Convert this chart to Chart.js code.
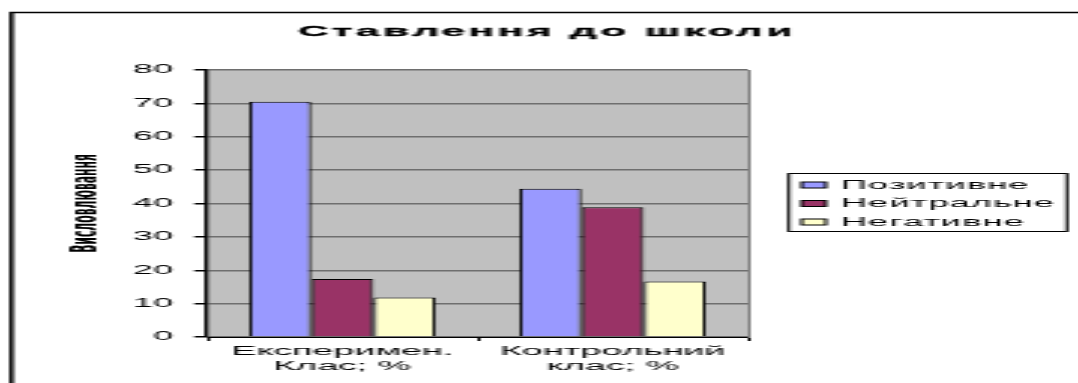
<!DOCTYPE html>
<html>
<head>
<meta charset="utf-8">
<script src="https://cdn.jsdelivr.net/npm/chart.js@4.4.1/dist/chart.umd.min.js"></script>
<style>
  html, body { margin: 0; padding: 0; background: #fff; }
  #c { display: block; width: 1078px !important; height: 383px !important; }
</style>
</head>
<body>
<canvas id="c" width="359" height="383" style="width:1078px;height:383px;display:block"></canvas>
<script>
const chartTitle = 'Ставлення до школи';
const yAxisTitle = 'Висловлювання';
const categories = [['Експеримен.', 'Клас; %'], ['Контрольний', 'клас; %']];
const seriesNames = ['Позитивне', 'Нейтральне', 'Негативне'];
const seriesColors = ['#9999FF', '#993366', '#FFFFCC'];
const positiveValues = [70.5, 44.4];
const neutralValues = [17.4, 38.9];
const negativeValues = [11.8, 16.6];
const yTicks = [0, 10, 20, 30, 40, 50, 60, 70, 80];

const seriesValues = [positiveValues, neutralValues, negativeValues];
const FONT = '"Liberation Sans", Arial, sans-serif';

const deco = {
  id: 'deco',
  beforeDraw(chart) {
    const { ctx, chartArea: a } = chart;
    ctx.save();
    ctx.fillStyle = '#ffffff';
    ctx.fillRect(0, 0, chart.width, chart.height);
    ctx.fillStyle = '#C0C0C0';
    ctx.fillRect(a.left, a.top, a.right - a.left, a.bottom - a.top);
    ctx.restore();
  },
  afterDraw(chart) {
    const { ctx, chartArea: a } = chart;
    ctx.save();
    // right gray edge of plot
    ctx.strokeStyle = '#808080';
    ctx.lineWidth = 1;
    ctx.beginPath();
    ctx.moveTo(a.right + 0.5, a.top);
    ctx.lineTo(a.right + 0.5, a.bottom + 1);
    ctx.stroke();
    // outer frame (left and top)
    ctx.strokeStyle = '#000';
    ctx.lineWidth = 1.5;
    ctx.beginPath();
    ctx.moveTo(chart.width + 2, 12.5);
    ctx.lineTo(3.8, 12.5);
    ctx.lineTo(3.8, chart.height + 2);
    ctx.stroke();

    // title
    ctx.fillStyle = '#000';
    ctx.strokeStyle = '#000';
    ctx.font = 'bold 14px ' + FONT;
    ctx.textBaseline = 'middle';
    ctx.textAlign = 'left';
    const ls = 1.2;
    ctx.letterSpacing = ls + 'px';
    const tw = ctx.measureText(chartTitle).width - ls;
    ctx.fillText(chartTitle, 181.5 - tw / 2, 32.5);
    ctx.lineWidth = 0.3;
    ctx.strokeText(chartTitle, 181.5 - tw / 2, 32.5);

    // legend
    const bx = 262.7, by = 173, bw = 92.6, bh = 58;
    ctx.letterSpacing = '0.4px';
    ctx.lineWidth = 1;
    ctx.strokeStyle = '#000';
    ctx.strokeRect(bx, by + 0.5, bw, bh);
    ctx.font = '12px ' + FONT;
    const rows = [185, 203.5, 222];
    chart.data.datasets.forEach((ds, i) => {
      const cy = rows[i];
      ctx.fillStyle = ds.backgroundColor;
      ctx.fillRect(267, cy - 3, 8, 6);
      ctx.strokeStyle = '#000';
      ctx.lineWidth = 1;
      ctx.strokeRect(267, cy - 3, 8, 6);
      ctx.fillStyle = '#000';
      ctx.fillText(ds.label, 280, cy + 0.5);
    });
    ctx.restore();
  }
};

new Chart(document.getElementById('c'), {
  type: 'bar',
  data: {
    labels: categories,
    datasets: seriesNames.map((name, i) => ({
      label: name,
      data: seriesValues[i],
      backgroundColor: seriesColors[i],
      borderColor: '#000',
      borderWidth: 1,
      categoryPercentage: 0.69,
      barPercentage: 1.0
    }))
  },
  options: {
    responsive: false,
    devicePixelRatio: 1,
    animation: false,
    layout: { padding: { top: 70, right: 110, bottom: 0, left: 0 } },
    plugins: {
      legend: { display: false },
      title: { display: false },
      tooltip: { enabled: false }
    },
    scales: {
      x: {
        afterFit(scale) { scale.height = 46; },
        grid: {
          display: true,
          drawOnChartArea: false,
          drawTicks: true,
          tickLength: 4,
          color: '#000',
          offset: true
        },
        border: { display: true, color: '#000', width: 1 },
        ticks: {
          color: '#000',
          padding: 3,
          maxRotation: 0,
          autoSkip: false,
          font: { family: FONT, size: 12.5, lineHeight: 1.22 }
        }
      },
      y: {
        min: 0,
        max: 80,
        afterFit(scale) { scale.width = 69; },
        afterBuildTicks(scale) { scale.ticks = yTicks.map(v => ({ value: v })); },
        grid: {
          color: '#6e6e6e',
          lineWidth: 1.5,
          tickColor: '#000',
          tickLength: 4.3,
          drawTicks: true
        },
        border: { display: true, color: '#000', width: 1.3 },
        ticks: {
          color: '#000',
          padding: 7,
          font: { family: FONT, size: 12 }
        },
        title: {
          display: true,
          text: yAxisTitle,
          color: '#000',
          padding: { top: 22, bottom: 0 },
          font: { family: '"Liberation Sans Narrow", "DejaVu Sans Condensed", sans-serif', size: 12, weight: 'bold', lineHeight: 1.2 }
        }
      }
    }
  },
  plugins: [deco]
});
</script>
</body>
</html>
